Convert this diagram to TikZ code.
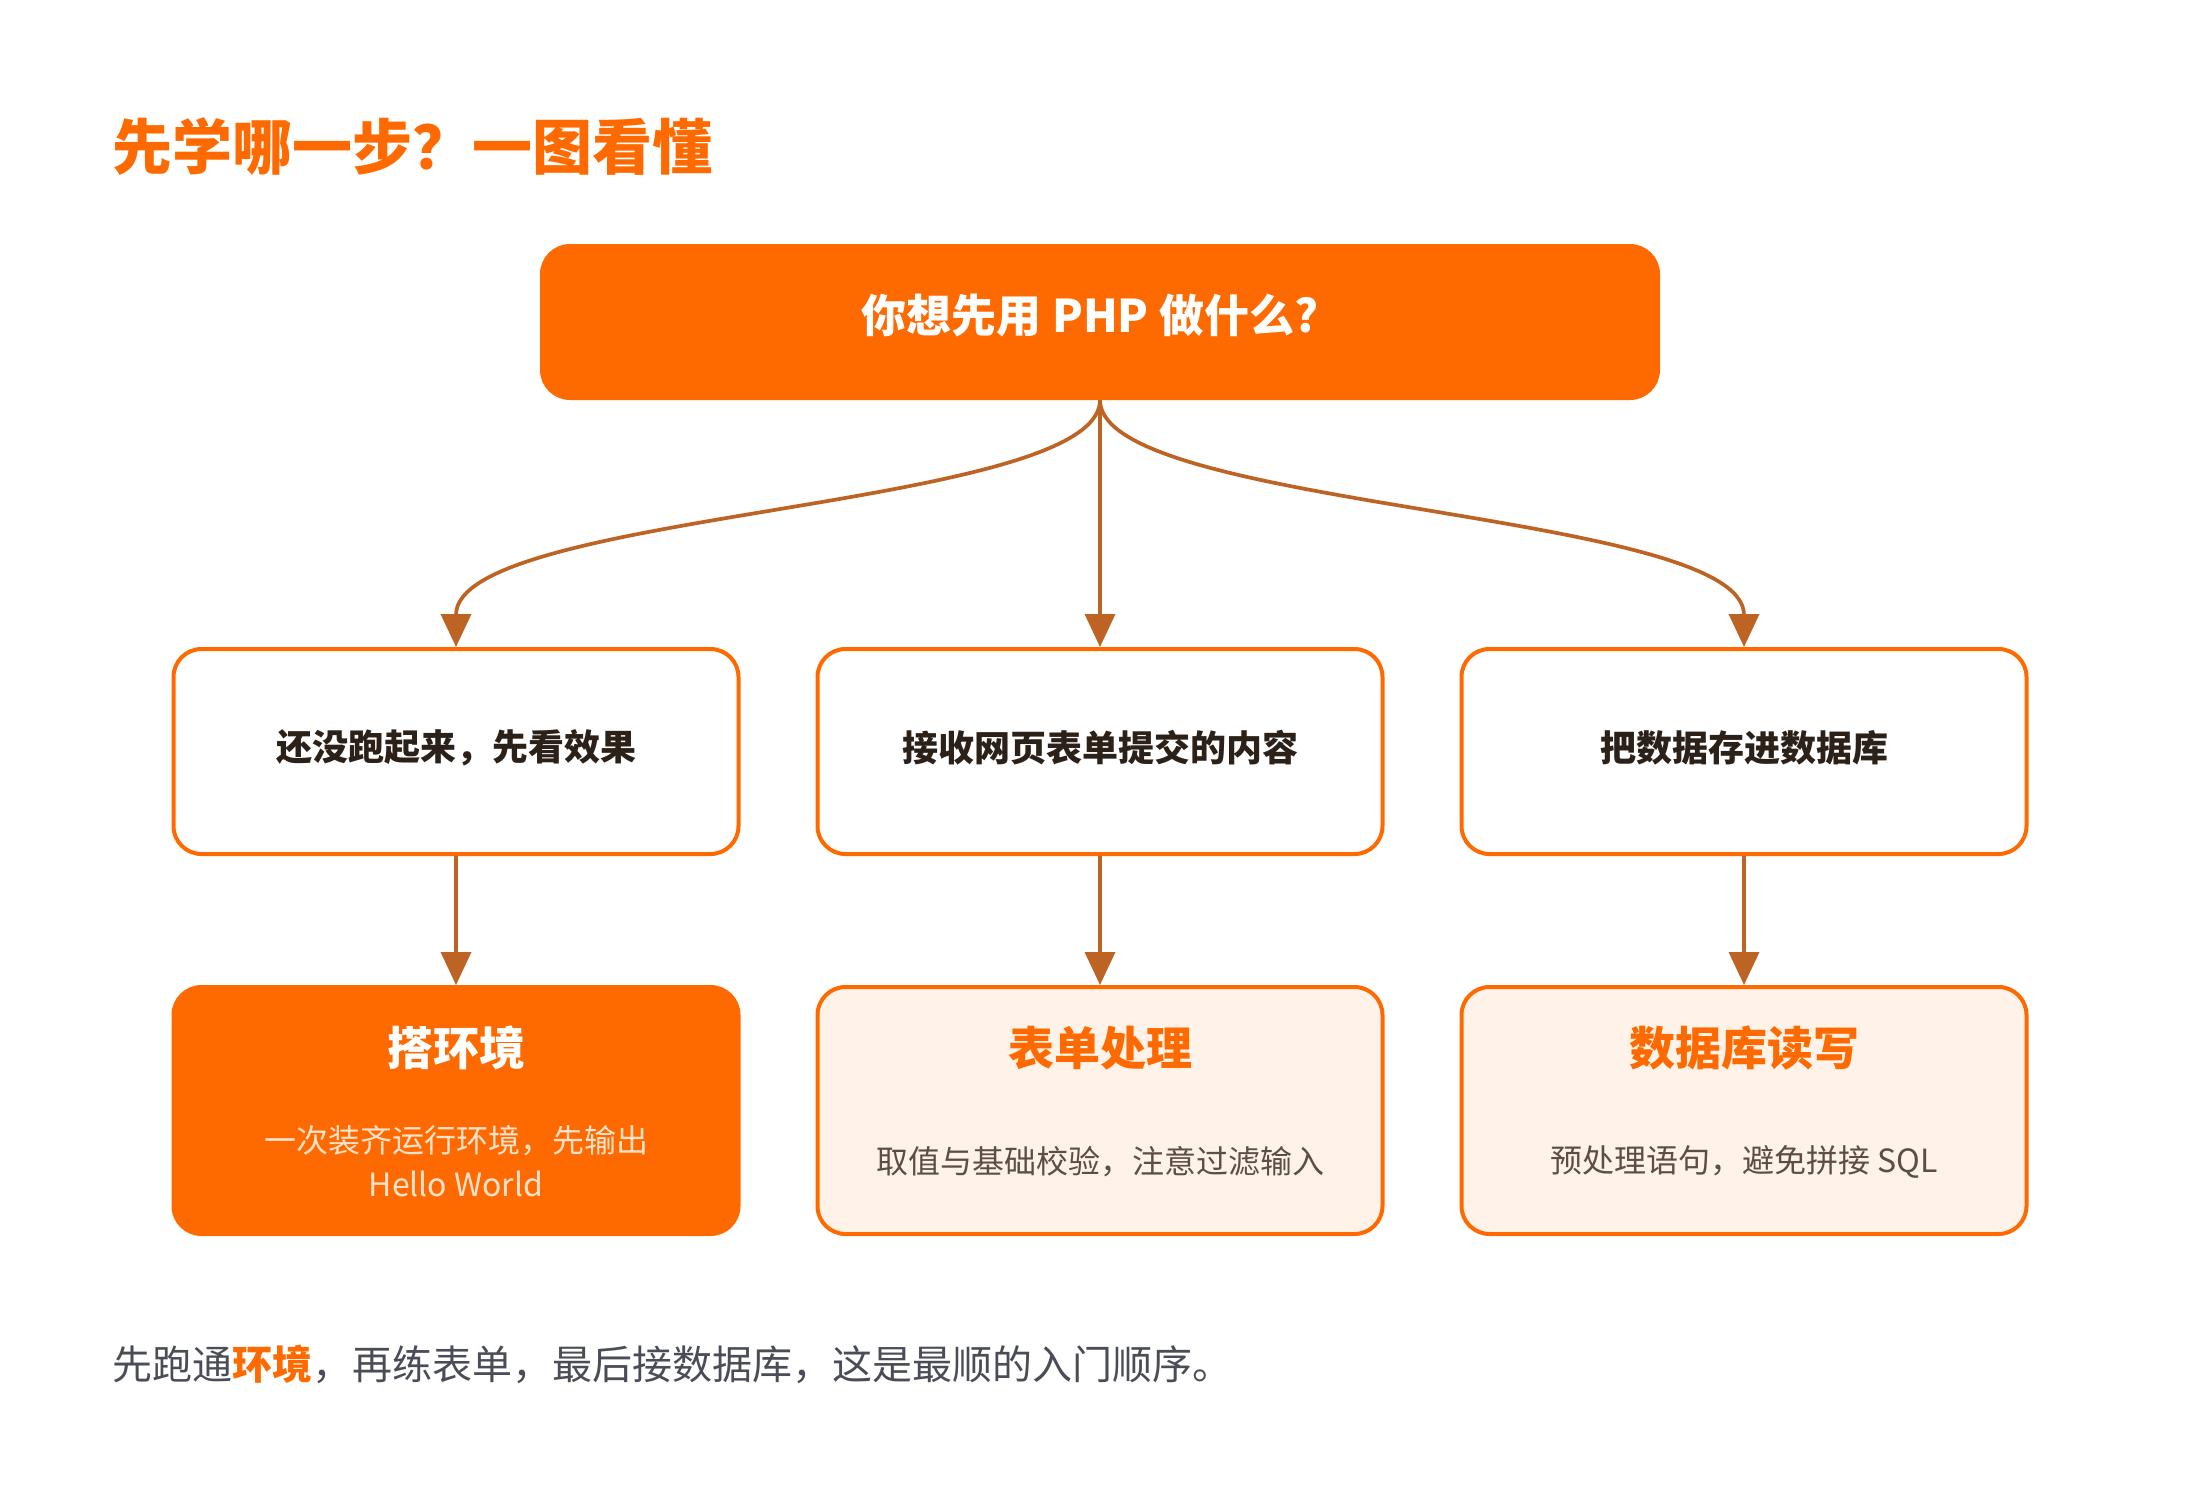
\documentclass[tikz,border=0pt]{standalone}
\usepackage{fontspec}
\setmainfont{Noto Sans CJK SC}
\usetikzlibrary{arrows.meta,calc}
\definecolor{orng}{HTML}{FF6A00}
\definecolor{conn}{HTML}{BD6424}
\definecolor{peach}{HTML}{FFF2E8}
\definecolor{darktxt}{HTML}{2B2118}
\definecolor{subtxt}{HTML}{5C4D45}
\definecolor{lighttxt}{HTML}{FFE2CC}
\definecolor{foottxt}{HTML}{4A4D57}
\begin{document}
\begin{tikzpicture}[x=0.5pt,y=-0.5pt,
  box/.style={rounded corners=14pt, line width=2pt, draw=orng, inner sep=0pt},
  topbox/.style={box, fill=orng, minimum width=558pt, minimum height=76pt},
  midbox/.style={box, fill=white, minimum width=282.5pt, minimum height=102.5pt},
  botbox/.style={box, minimum width=282.5pt, minimum height=123.5pt},
  txt/.style={inner sep=0pt, align=center},
  link/.style={draw=conn, line width=1.85pt, -{Triangle[length=16.5pt,width=15pt]}}
]
\useasboundingbox[fill=white] (0,0) rectangle (2200,1488);

% title
\node[txt, anchor=west, text=orng, font=\bfseries\fontsize{30}{36}\selectfont] (title) at (112,147) {先学哪一步？一图看懂};

% top box
\node[topbox] (top) at (1100,322) {};
\node[txt, text=white, font=\bfseries\fontsize{22.5}{27}\selectfont] (toptxt) at (1090,316) {你想先用 PHP 做什么?};

% middle row
\node[midbox] (m1) at (456,751.5) {};
\node[midbox] (m2) at (1100,751.5) {};
\node[midbox] (m3) at (1744,751.5) {};
\node[txt, text=darktxt, font=\bfseries\fontsize{18}{22}\selectfont] (m1t) at (456,748) {还没跑起来，先看效果};
\node[txt, text=darktxt, font=\bfseries\fontsize{18}{22}\selectfont] (m2t) at (1100,748) {接收网页表单提交的内容};
\node[txt, text=darktxt, font=\bfseries\fontsize{18}{22}\selectfont] (m3t) at (1744,748) {把数据存进数据库};

% bottom row
\node[botbox, fill=orng] (b1) at (456,1110.5) {};
\node[botbox, fill=peach] (b2) at (1100,1110.5) {};
\node[botbox, fill=peach] (b3) at (1744,1110.5) {};
\node[txt, text=white, font=\bfseries\fontsize{23}{28}\selectfont] (b1t) at (456,1048) {搭环境};
\node[txt, text=orng, font=\bfseries\fontsize{23}{28}\selectfont] (b2t) at (1100,1048) {表单处理};
\node[txt, text=orng, font=\bfseries\fontsize{23}{28}\selectfont] (b3t) at (1744,1048) {数据库读写};
\node[txt, text=lighttxt, font=\fontsize{16}{22}\selectfont] (b1s) at (456,1161) {一次装齐运行环境，先输出\\Hello World};
\node[txt, text=subtxt, font=\fontsize{16}{22}\selectfont] (b2s) at (1100,1162) {取值与基础校验，注意过滤输入};
\node[txt, text=subtxt, font=\fontsize{16}{22}\selectfont] (b3s) at (1744,1162) {预处理语句，避免拼接 SQL};

% connectors
\draw[link] (top.south) .. controls ($(top.south)+(0,110)$) and ($(m1.north)+(0,-137)$) .. (m1.north);
\draw[link] (top.south) -- (m2.north);
\draw[link] (top.south) .. controls ($(top.south)+(0,110)$) and ($(m3.north)+(0,-137)$) .. (m3.north);
\draw[link] (m1.south) -- (b1.north);
\draw[link] (m2.south) -- (b2.north);
\draw[link] (m3.south) -- (b3.north);

% footer
\node[txt, anchor=west, text=foottxt, font=\fontsize{20}{24}\selectfont] (foot) at (112,1364) {先跑通\textcolor{orng}{\bfseries 环境}，再练表单，最后接数据库，这是最顺的入门顺序。};
\end{tikzpicture}
\end{document}
